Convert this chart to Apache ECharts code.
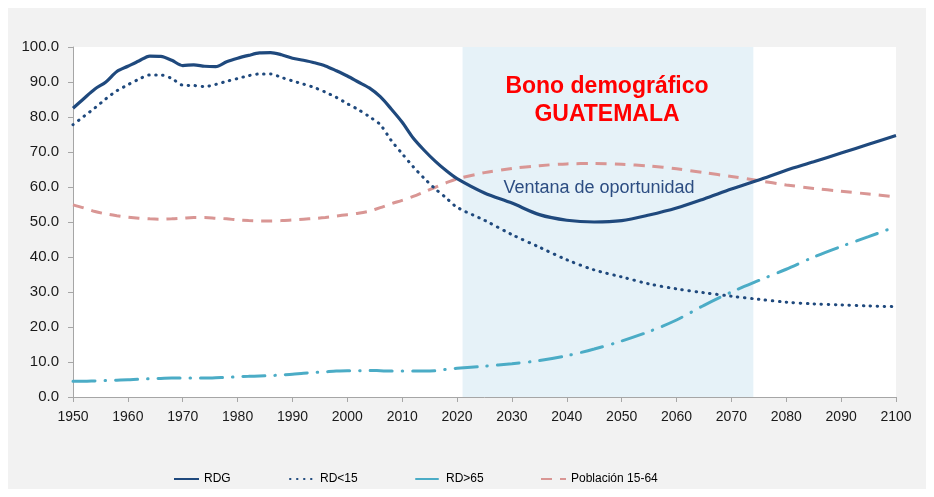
<!DOCTYPE html>
<html>
<head>
<meta charset="utf-8">
<script src="https://cdn.jsdelivr.net/npm/echarts@6/dist/echarts.min.js"></script>
<style>html,body{margin:0;padding:0;background:#fff}#c{width:934px;height:497px}</style>
</head>
<body>
<div id="c"></div>
<script>
var years = [1950,1952,1954,1956,1958,1960,1962,1964,1966,1968,1970,1972,1974,1976,1978,1980,1982,1984,1986,1988,1990,1992,1994,1996,1998,2000,2002,2004,2006,2008,2010,2012,2014,2016,2018,2020,2025,2030,2035,2040,2045,2050,2055,2060,2065,2070,2075,2080,2085,2090,2095,2100];
var rdg = [82.5,85.3,88.0,90.0,93.0,94.5,96.0,97.4,97.3,96.2,94.7,94.9,94.5,94.4,95.8,96.8,97.6,98.3,98.4,97.8,96.8,96.2,95.5,94.6,93.2,91.7,90.0,88.3,85.8,82.3,78.5,74.0,70.5,67.4,64.7,62.4,58.3,55.4,52.1,50.5,50.0,50.4,52.0,54.0,56.6,59.4,62.0,64.8,67.2,69.7,72.2,74.7];
var rd15 = [77.8,80.2,82.6,85.2,87.5,89.2,90.8,92.0,92.0,91.0,89.1,89.0,88.7,89.3,90.2,91.0,91.8,92.3,92.3,91.3,90.3,89.4,88.4,87.1,85.6,83.8,82.1,80.1,77.8,73.3,69.5,65.8,62.5,59.5,56.9,54.2,50.5,46.4,42.8,39.2,36.3,34.3,32.3,30.9,29.8,28.8,27.9,27.1,26.6,26.3,26.0,25.8];
var rd65 = [4.5,4.5,4.6,4.7,4.8,4.9,5.1,5.2,5.3,5.4,5.4,5.4,5.4,5.5,5.6,5.8,5.9,6.0,6.1,6.3,6.5,6.8,7.0,7.2,7.4,7.5,7.5,7.6,7.5,7.4,7.4,7.4,7.4,7.5,7.9,8.2,8.8,9.5,10.4,11.8,13.7,16.0,18.7,22.0,26.2,30.0,33.3,36.5,40.0,43.0,45.8,48.7];
var pob = [54.9,54.0,53.0,52.3,51.8,51.4,51.1,50.9,50.8,50.9,51.1,51.3,51.3,51.1,50.9,50.6,50.4,50.3,50.3,50.4,50.6,50.8,51.0,51.3,51.7,52.1,52.5,53.1,54.1,55.2,56.2,57.3,58.6,59.9,61.2,62.3,64.1,65.3,66.1,66.6,66.7,66.5,66.0,65.2,64.1,63.0,61.8,60.6,59.6,58.8,58.0,57.2];
var seriesNames = ['RDG','RD<15','RD>65','Población 15-64'];
var windowStart = 2021, windowEnd = 2074;
var titleLines = ['Bono demográfico','GUATEMALA'];
var windowLabel = 'Ventana de oportunidad';

function pairs(v){ return years.map(function(y,i){ return [y, v[i]]; }); }

var chart = echarts.init(document.getElementById('c'));
var font = 'Liberation Sans, Arial, sans-serif';
function legend(name, left){
  return {data:[name], left:left, top:468, itemWidth:25, itemHeight:8, itemStyle:{opacity:0},
    textStyle:{fontFamily:font, fontSize:12, color:'#000'}, selectedMode:false};
}
chart.setOption({
  backgroundColor:'#ffffff',
  animation:false,
  graphic:[
    {type:'rect', z:-100, shape:{x:8,y:8,width:918,height:481}, style:{fill:'#f2f2f2'}},
    {type:'text', z:100, style:{text:titleLines[0], x:607, y:87, align:'center', verticalAlign:'middle', fill:'#ff0000', font:'bold 23px Liberation Sans, Arial, sans-serif'}},
    {type:'text', z:100, style:{text:titleLines[1], x:607, y:115, align:'center', verticalAlign:'middle', fill:'#ff0000', font:'bold 23px Liberation Sans, Arial, sans-serif'}},
    {type:'text', z:100, style:{text:windowLabel, x:599, y:188, align:'center', verticalAlign:'middle', fill:'#2c4d82', font:'18px Liberation Sans, Arial, sans-serif'}}
  ],
  grid:{left:73, right:38, top:47, bottom:100, show:true, backgroundColor:'#ffffff', borderWidth:0},
  xAxis:{type:'value', min:1950, max:2100, interval:10,
    axisLine:{show:true, lineStyle:{color:'#a6a6a6', width:1}},
    axisTick:{show:true, length:5, lineStyle:{color:'#a6a6a6'}},
    splitLine:{show:false},
    axisLabel:{fontFamily:font, fontSize:14, color:'#1a1a1a', margin:13, formatter:function(v){return String(v);}}},
  yAxis:{type:'value', min:0, max:100, interval:10,
    axisLine:{show:true, lineStyle:{color:'#a6a6a6', width:1}},
    axisTick:{show:true, length:5, lineStyle:{color:'#a6a6a6'}},
    splitLine:{show:false},
    axisLabel:{fontFamily:font, fontSize:15, color:'#1a1a1a', margin:14, formatter:function(v){return v.toFixed(1);}}},
  legend:[legend(seriesNames[0],168), legend(seriesNames[1],284), legend(seriesNames[2],410), legend(seriesNames[3],535)],
  series:[
    {type:'line', name:'_window', data:[], silent:true, z:1,
      markArea:{silent:true, itemStyle:{color:'#e6f2f8'}, data:[[{xAxis:windowStart},{xAxis:windowEnd}]]}},
    {type:'line', name:seriesNames[3], data:pairs(pob), symbol:'none', smooth:0.3, z:3,
      lineStyle:{color:'#d99694', width:3, type:[11,8]}, itemStyle:{color:'#d99694'}},
    {type:'line', name:seriesNames[2], data:pairs(rd65), symbol:'none', smooth:0.3, z:3,
      lineStyle:{color:'#4bacc6', width:3, type:[22,10,0.5,10], cap:'round'}, itemStyle:{color:'#4bacc6'}},
    {type:'line', name:seriesNames[1], data:pairs(rd15), symbol:'none', smooth:0.3, z:4,
      lineStyle:{color:'#1f497d', width:3, type:[0.5,6.5], cap:'round'}, itemStyle:{color:'#1f497d'}},
    {type:'line', name:seriesNames[0], data:pairs(rdg), symbol:'none', smooth:0.3, z:5,
      lineStyle:{color:'#1f497d', width:3.2}, itemStyle:{color:'#1f497d'}}
  ]
});
</script>
</body>
</html>
